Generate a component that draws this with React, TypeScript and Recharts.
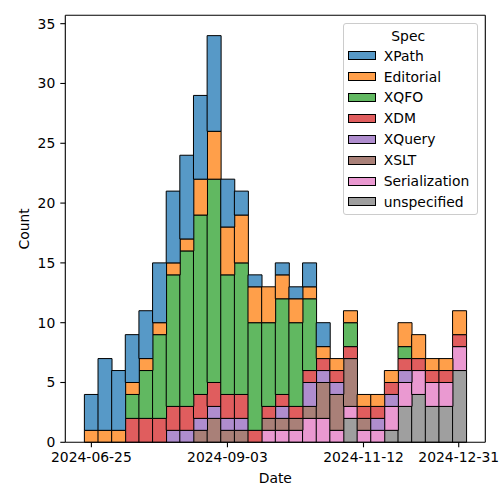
import { BarChart, Bar, XAxis, YAxis, Legend, ReferenceLine } from 'recharts';

const FONT = '"DejaVu Sans", sans-serif';

// weekly bins, positions in days after 2024-06-25
const BIN_START = -3.6;
const BIN_WIDTH = 7.016;
const BIN_COUNT = 28;
const X_MIN = -13.42;
const X_MAX = 202.67;
const Y_MAX = 35.7;

const xTicks = [0, 70, 140, 189];
const yTicks = [0, 5, 10, 15, 20, 25, 30, 35];

// legend order (top of stack first)
const specs = ['XPath', 'Editorial', 'XQFO', 'XDM', 'XQuery', 'XSLT', 'Serialization', 'unspecified'];
const specColors: Record<string, string> = {
  XPath: '#5799c7',
  Editorial: '#ff9f4a',
  XQFO: '#61b861',
  XDM: '#e05d5e',
  XQuery: '#af8dce',
  XSLT: '#a98078',
  Serialization: '#ea99d1',
  unspecified: '#9f9f9f',
};

const xpath = [3, 6, 5, 4, 4, 5, 6, 7, 7, 8, 4, 2, 1, 0, 1, 1, 2, 2, 0, 0, 0, 0, 0, 0, 0, 0, 0, 0];
const editorial = [1, 1, 1, 1, 1, 1, 1, 1, 3, 4, 4, 4, 3, 3, 2, 2, 1, 1, 1, 1, 1, 1, 1, 2, 2, 1, 1, 2];
const xqfo = [0, 0, 0, 2, 4, 7, 11, 13, 15, 17, 10, 11, 9, 7, 8, 7, 6, 0, 0, 2, 0, 0, 0, 1, 0, 0, 0, 0];
const xdm = [0, 0, 0, 2, 2, 2, 2, 2, 2, 2, 2, 2, 1, 1, 1, 1, 1, 1, 1, 1, 1, 1, 1, 1, 1, 1, 1, 1];
const xquery = [0, 0, 0, 0, 0, 0, 1, 1, 1, 1, 1, 1, 0, 0, 1, 0, 2, 1, 1, 0, 0, 1, 1, 1, 0, 0, 0, 0];
const xslt = [0, 0, 0, 0, 0, 0, 0, 0, 1, 2, 1, 1, 0, 1, 1, 1, 1, 3, 3, 4, 1, 0, 0, 0, 0, 0, 0, 0];
const serialization = [0, 0, 0, 0, 0, 0, 0, 0, 0, 0, 0, 0, 0, 1, 1, 1, 2, 2, 1, 1, 1, 1, 2, 2, 2, 2, 2, 2];
const unspecified = [0, 0, 0, 0, 0, 0, 0, 0, 0, 0, 0, 0, 0, 0, 0, 0, 0, 0, 0, 2, 0, 0, 1, 3, 4, 3, 3, 6];

const seriesValues: Record<string, number[]> = {
  XPath: xpath,
  Editorial: editorial,
  XQFO: xqfo,
  XDM: xdm,
  XQuery: xquery,
  XSLT: xslt,
  Serialization: serialization,
  unspecified: unspecified,
};

const data = Array.from({ length: BIN_COUNT }, (_, i) => {
  const row: Record<string, number> = { day: BIN_START + (i + 0.5) * BIN_WIDTH };
  specs.forEach((s) => {
    row[s] = seriesValues[s][i];
  });
  return row;
});

const BASE = Date.UTC(2024, 5, 25);
const fmtDate = (d: number) => new Date(BASE + d * 86400000).toISOString().slice(0, 10);

const tickStyle = { fill: '#000', fontSize: 13.9, fontFamily: FONT };

const countLabel = (props: any) => {
  const vb = props.viewBox;
  const cx = vb.x + 29;
  const cy = vb.y + vb.height / 2;
  return (
    <text x={cx} y={cy} transform={`rotate(-90, ${cx}, ${cy})`} textAnchor="middle" fontSize={13.9} fontFamily={FONT} fill="#000">
      Count
    </text>
  );
};

const dateLabel = (props: any) => {
  const vb = props.viewBox;
  return (
    <text x={vb.x + vb.width / 2} y={vb.y + 40.7} textAnchor="middle" fontSize={13.9} fontFamily={FONT} fill="#000">
      Date
    </text>
  );
};

const SpecLegend = () => (
  <div
    style={{
      position: 'relative',
      width: 135,
      height: 192,
      border: '1px solid #cccccc',
      borderRadius: 3,
      background: 'rgba(255,255,255,0.8)',
      boxSizing: 'border-box',
      fontFamily: FONT,
      fontSize: 13.9,
      color: '#000',
    }}
  >
    <div style={{ position: 'absolute', left: 0, top: 4, width: 129, textAlign: 'center', lineHeight: '16px' }}>Spec</div>
    {specs.map((s, i) => (
      <div
        key={s}
        style={{ position: 'absolute', left: 4, top: 24 + i * 20.9, height: 16, display: 'flex', alignItems: 'center', whiteSpace: 'nowrap' }}
      >
        <span
          style={{
            display: 'inline-block',
            width: 28,
            height: 9,
            background: specColors[s],
            border: '1px solid #000',
            boxSizing: 'border-box',
            marginRight: 8,
          }}
        />
        <span style={{ lineHeight: '16px' }}>{s}</span>
      </div>
    ))}
  </div>
);

export default function App() {
  const stackOrder = [...specs].reverse();
  return (
    <div style={{ position: 'absolute', left: 0, top: 0, width: 500, height: 500, background: '#fff' }}>
      <BarChart
        width={500}
        height={500}
        data={data}
        margin={{ top: 15.3, right: 14.7, bottom: 0, left: 0 }}
        barCategoryGap={0}
        barGap={0}
      >
        <XAxis
          dataKey="day"
          type="number"
          domain={[X_MIN, X_MAX]}
          ticks={xTicks}
          tickFormatter={fmtDate}
          height={57.7}
          tick={tickStyle}
          tickSize={5}
          tickMargin={5}
          axisLine={{ stroke: '#000', strokeWidth: 1.1 }}
          tickLine={{ stroke: '#000', strokeWidth: 1.1 }}
          label={dateLabel}
        />
        <YAxis
          type="number"
          domain={[0, Y_MAX]}
          ticks={yTicks}
          width={65.3}
          tick={tickStyle}
          tickSize={5}
          tickMargin={5}
          axisLine={{ stroke: '#000', strokeWidth: 1.1 }}
          tickLine={{ stroke: '#000', strokeWidth: 1.1 }}
          label={countLabel}
        />
        {stackOrder.map((s) => (
          <Bar
            key={s}
            dataKey={s}
            stackId="spec"
            fill={specColors[s]}
            stroke="#000"
            strokeWidth={1}
            isAnimationActive={false}
          />
        ))}
        <ReferenceLine y={Y_MAX} stroke="#000" strokeWidth={1.1} />
        <ReferenceLine x={X_MAX} stroke="#000" strokeWidth={1.1} />
        <Legend
          layout="vertical"
          align="center"
          verticalAlign="middle"
          content={() => <SpecLegend />}
          wrapperStyle={{ position: 'absolute', left: 342.7, top: 22.7, width: 135, height: 192 }}
        />
      </BarChart>
    </div>
  );
}
